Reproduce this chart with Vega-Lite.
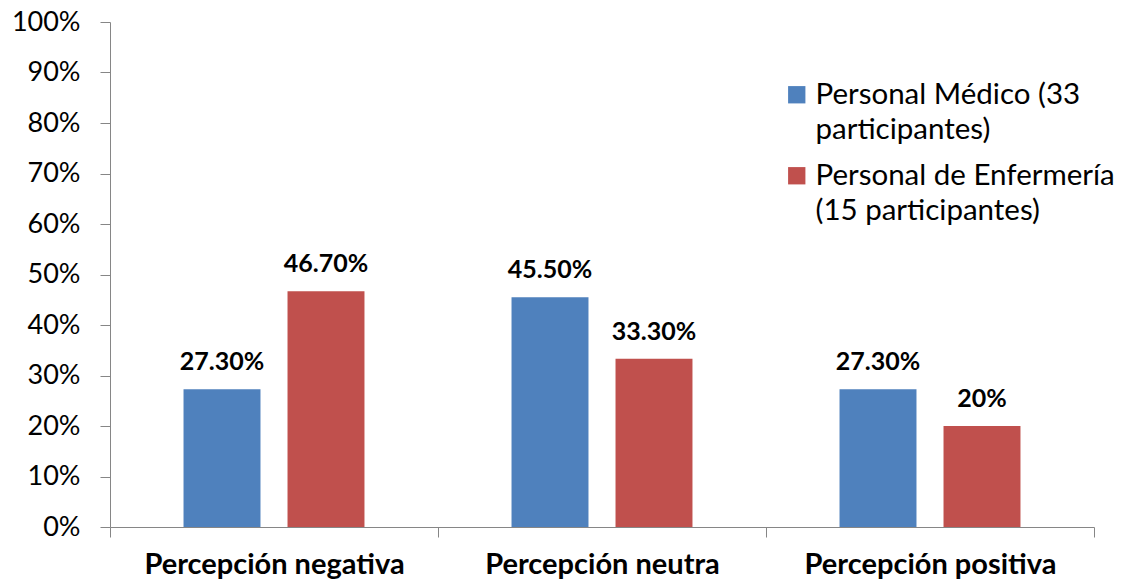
{
  "$schema": "https://vega.github.io/schema/vega-lite/v6.json",
  "width": 984,
  "height": 505,
  "autosize": {"type": "none"},
  "padding": {"left": 110, "top": 22, "right": 28, "bottom": 59},
  "background": "white",
  "config": {"view": {"stroke": null}, "font": "Lato", "style": {"guide-label": {"lineHeight": 35}}},
  "data": {
    "values": [
      {"cat": "Percepción negativa", "group": "Personal Médico (33 participantes)", "value": 0.273, "label": "27.30%"},
      {"cat": "Percepción negativa", "group": "Personal de Enfermería (15 participantes)", "value": 0.467, "label": "46.70%"},
      {"cat": "Percepción neutra", "group": "Personal Médico (33 participantes)", "value": 0.455, "label": "45.50%"},
      {"cat": "Percepción neutra", "group": "Personal de Enfermería (15 participantes)", "value": 0.333, "label": "33.30%"},
      {"cat": "Percepción positiva", "group": "Personal Médico (33 participantes)", "value": 0.273, "label": "27.30%"},
      {"cat": "Percepción positiva", "group": "Personal de Enfermería (15 participantes)", "value": 0.2, "label": "20%"}
    ]
  },
  "encoding": {
    "x": {
      "field": "cat", "type": "nominal", "sort": null,
      "scale": {"paddingInner": 0, "paddingOuter": 0},
      "axis": {
        "title": null, "labelAngle": 0, "tickBand": "extent", "labelLimit": 0,
        "domainColor": "#868686", "tickColor": "#868686", "tickSize": 10,
        "labelFont": "Lato", "labelFontWeight": "bold", "labelFontSize": 29,
        "labelColor": "black", "labelPadding": 13
      }
    },
    "xOffset": {
      "field": "group", "type": "nominal", "sort": null,
      "scale": {"paddingInner": 0.26, "paddingOuter": 0.707}
    },
    "y": {
      "field": "value", "type": "quantitative",
      "scale": {"domain": [0, 1], "nice": false},
      "axis": {
        "title": null, "format": ".0%", "values": [0, 0.1, 0.2, 0.3, 0.4, 0.5, 0.6, 0.7, 0.8, 0.9, 1],
        "grid": false, "domainColor": "#868686", "tickColor": "#868686", "tickSize": 10,
        "labelFont": "Lato", "labelFontSize": 27, "labelColor": "black", "labelPadding": 20
      }
    }
  },
  "layer": [
    {
      "mark": {"type": "bar"},
      "encoding": {
        "color": {
          "field": "group", "type": "nominal", "sort": null,
          "scale": {"range": ["#4F81BD", "#C0504D"]},
          "legend": {
            "title": null, "orient": "none", "legendX": 672, "legendY": 58,
            "symbolType": "square", "symbolSize": 300, "symbolStrokeWidth": 0,
            "labelFont": "Lato", "labelFontSize": 29.5, "labelColor": "black",
            "labelLimit": 0, "labelBaseline": "middle", "labelOffset": 4,
            "labelExpr": "indexof(datum.label, 'Médico') >= 0 ? ['Personal Médico (33', 'participantes)'] : ['Personal de Enfermería', '(15 participantes)']",
            "rowPadding": 15
          }
        }
      }
    },
    {
      "mark": {"type": "text", "baseline": "bottom", "dy": -14, "fontWeight": "bold", "fontSize": 25, "font": "Lato", "color": "black"},
      "encoding": {"text": {"field": "label"}}
    }
  ]
}
